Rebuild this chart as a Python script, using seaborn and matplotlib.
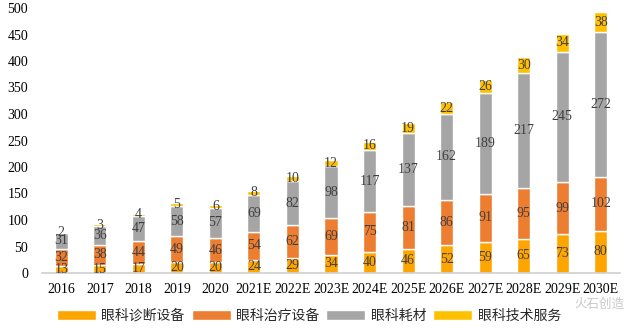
import matplotlib
matplotlib.use("Agg")
import matplotlib.pyplot as plt
import seaborn as sns
import numpy as np

years = ["2016", "2017", "2018", "2019", "2020", "2021E", "2022E", "2023E",
         "2024E", "2025E", "2026E", "2027E", "2028E", "2029E", "2030E"]
diagnosis = [13, 15, 17, 20, 20, 24, 29, 34, 40, 46, 52, 59, 65, 73, 80]
treatment = [32, 38, 44, 49, 46, 54, 62, 69, 75, 81, 86, 91, 95, 99, 102]
consumables = [31, 36, 47, 58, 57, 69, 82, 98, 117, 137, 162, 189, 217, 245, 272]
services = [2, 3, 4, 5, 6, 8, 10, 12, 16, 19, 22, 26, 30, 34, 38]

series_names = ["眼科诊断设备", "眼科治疗设备", "眼科耗材", "眼科技术服务"]
series_values = [diagnosis, treatment, consumables, services]
colors = ["#FFA500", "#ED7D31", "#A5A5A5", "#FFC000"]

sns.set_theme(style="white")
plt.rcParams["font.family"] = ["Liberation Serif", "Noto Sans CJK SC", "DejaVu Sans"]

fig = plt.figure(figsize=(6.34, 3.31), dpi=100)
ax = fig.add_axes([42 / 634, 58 / 331, 578 / 634, 265 / 331])

bottom = np.zeros(len(years))
for name, vals, col in zip(series_names, series_values, colors):
    sns.barplot(x=years, y=vals, bottom=bottom, color=col, width=0.34,
                saturation=1, label=name, ax=ax)
    bottom = bottom + np.array(vals)

for cont, vals in zip(ax.containers, series_values):
    ax.bar_label(cont, labels=[str(v) for v in vals], label_type="center",
                 fontsize=10, color="#404040", family="Liberation Serif")

ax.set_ylim(0, 500)
ax.set_yticks(range(0, 501, 50))
ax.set_xlim(-0.5, len(years) - 0.5)
for s in ["top", "right", "left"]:
    ax.spines[s].set_visible(False)
ax.spines["bottom"].set_color("#D0D0D0")
ax.spines["bottom"].set_linewidth(1.2)
ax.tick_params(axis="both", length=0, labelsize=10, colors="black")
ax.tick_params(axis="x", pad=7)
ax.tick_params(axis="y", pad=10)
for lab in ax.get_xticklabels() + ax.get_yticklabels():
    lab.set_family("Liberation Serif")

handles, labels = ax.get_legend_handles_labels()
if ax.get_legend() is not None:
    ax.get_legend().remove()
fig.legend(handles, labels, loc="center left", ncol=4, frameon=False,
           bbox_to_anchor=(57 / 634, 15 / 331), handlelength=2.8, handleheight=0.7,
           columnspacing=0.5, handletextpad=0.4, borderaxespad=0, borderpad=0,
           prop={"family": ["Noto Sans CJK SC", "DejaVu Sans"], "size": 10})

fig.text(0.985, 27 / 331, "火石创造", ha="right", va="center", fontsize=9,
         color="#C8C8C8", family=["Noto Sans CJK SC", "DejaVu Sans"])

fig.savefig("out.png", dpi=100)
